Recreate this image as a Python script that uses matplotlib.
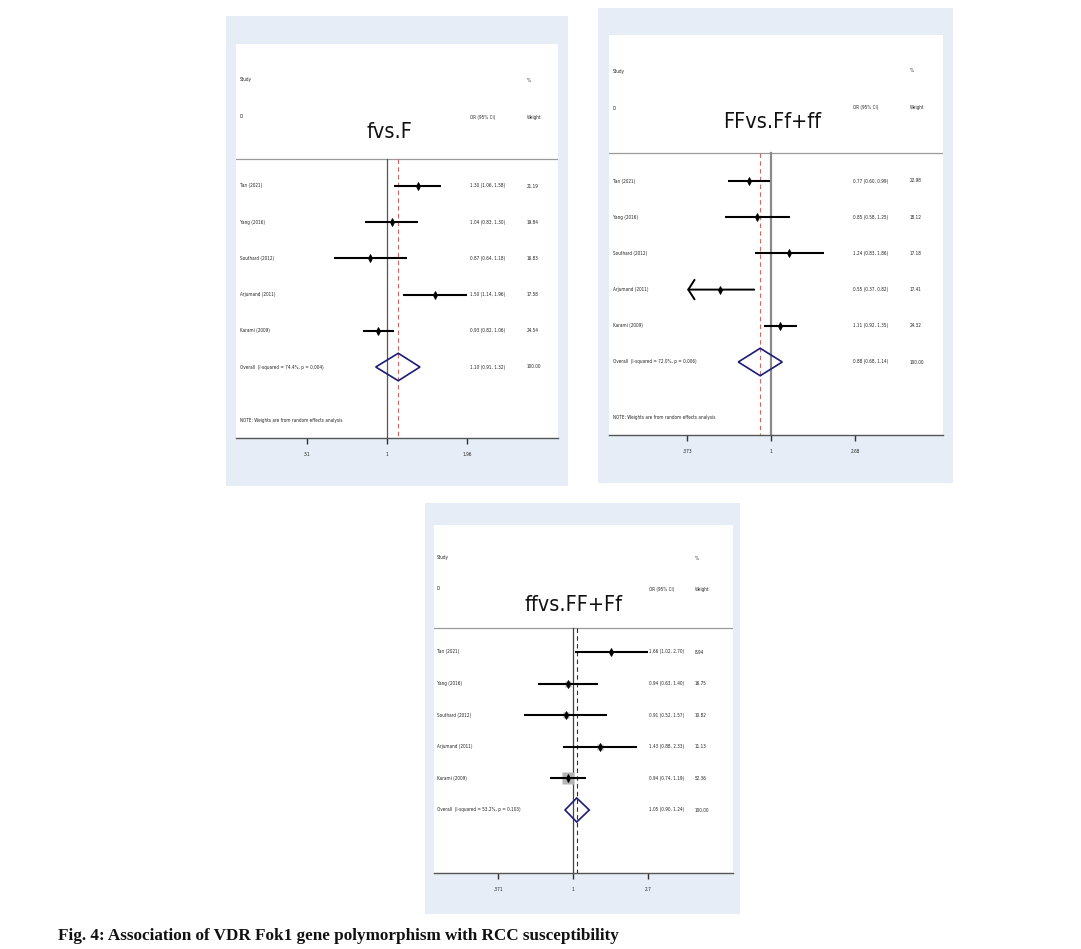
import numpy as np
import matplotlib
matplotlib.use("Agg")
import matplotlib.pyplot as plt
from matplotlib.patches import Rectangle, Polygon
from matplotlib import font_manager as fm

# ---------------- data ----------------
studies = ["Tan (2021)", "Yang (2016)", "Southard (2012)", "Arjumand (2011)", "Karami (2009)"]

p1_title = "fvs.F"
p1_or = [1.30, 1.04, 0.87, 1.50, 0.93]
p1_lo = [1.06, 0.83, 0.64, 1.14, 0.82]
p1_hi = [1.58, 1.30, 1.18, 1.96, 1.06]
p1_w = [21.19, 19.84, 16.83, 17.58, 24.54]
p1_overall = [1.10, 0.91, 1.32]
p1_het = "Overall  (I-squared = 74.4%, p = 0.004)"
p1_ticks = [0.51, 1, 1.96]
p1_ticklabels = [".51", "1", "1.96"]

p2_title = "FFvs.Ff+ff"
p2_or = [0.77, 0.85, 1.24, 0.55, 1.11]
p2_lo = [0.60, 0.58, 0.83, 0.37, 0.92]
p2_hi = [0.99, 1.25, 1.86, 0.82, 1.35]
p2_w = [22.98, 18.12, 17.18, 17.41, 24.32]
p2_overall = [0.88, 0.68, 1.14]
p2_het = "Overall  (I-squared = 72.0%, p = 0.006)"
p2_ticks = [0.373, 1, 2.68]
p2_ticklabels = [".373", "1", "2.68"]

p3_title = "ffvs.FF+Ff"
p3_or = [1.66, 0.94, 0.91, 1.43, 0.94]
p3_lo = [1.02, 0.63, 0.52, 0.88, 0.74]
p3_hi = [2.70, 1.40, 1.57, 2.33, 1.19]
p3_w = [8.94, 16.75, 10.82, 11.13, 52.36]
p3_overall = [1.05, 0.90, 1.24]
p3_het = "Overall  (I-squared = 53.2%, p = 0.103)"
p3_ticks = [0.371, 1, 2.7]
p3_ticklabels = [".371", "1", "2.7"]

note_text = "NOTE: Weights are from random effects analysis"
caption = "Fig. 4: Association of VDR Fok1 gene polymorphism with RCC susceptibility"

# ---------------- fonts ----------------
names = {f.name for f in fm.fontManager.ttflist}
if "Liberation Sans Narrow" in names:
    NARROW = dict(family="Liberation Sans Narrow")
else:
    NARROW = dict(family="DejaVu Sans", fontstretch="condensed")

W, H = 1081, 949
BG = "#e6edf6"
fig = plt.figure(figsize=(W / 100, H / 100), dpi=100)
fig.patch.set_facecolor("white")


def draw_panel(outer, white, row0, sp, header_px, study_px, id_px, title_px, note_px,
               xlim, title, orv, lo, hi, w, overall, het, ticks, ticklabels,
               cols, one_color, one_lw, dash_color, boxes=False, arrow_left=None):
    x0, y0, x1, y1 = outer
    fig.add_artist(Rectangle((x0 / W, 1 - y1 / H), (x1 - x0) / W, (y1 - y0) / H,
                             transform=fig.transFigure, facecolor=BG, edgecolor="none", zorder=0))
    wl, wt, wr, wb = white
    ax = fig.add_axes([wl / W, 1 - wb / H, (wr - wl) / W, (wb - wt) / H])
    ax.set_facecolor("white")
    yr = lambda p: (p - row0) / sp
    ax.set_xscale("log")
    ax.set_xlim(*xlim)
    ax.set_ylim(yr(wb), yr(wt))
    for s in ["top", "left", "right"]:
        ax.spines[s].set_visible(False)
    ax.spines["bottom"].set_color("#555555")
    ax.spines["bottom"].set_linewidth(1.0)
    ax.set_yticks([])
    ax.set_xticks(ticks)
    ax.set_xticklabels(ticklabels, **NARROW)
    ax.xaxis.set_minor_locator(matplotlib.ticker.NullLocator())
    ax.tick_params(axis="x", direction="out", length=4, width=1, color="#333333",
                   labelsize=3.4, pad=6, labelcolor="#222222")

    yh = yr(header_px)
    ybot = yr(wb)
    ax.axhline(yh, color="#9a9a9a", lw=0.9)
    ax.plot([1, 1], [yh, ybot], color=one_color, lw=one_lw, zorder=2)
    ax.plot([overall[0]] * 2, [yh, ybot], color=dash_color, lw=0.8, ls=(0, (4, 3)), zorder=2)

    n = len(orv)
    ys = np.arange(n)
    fs = dict(fontsize=3.3, va="center", color="#222222", **NARROW)
    tr = ax.get_yaxis_transform()
    for i in range(n):
        if arrow_left is not None and i == arrow_left:
            ax.annotate("", xy=(ticks[0], ys[i]), xytext=(hi[i], ys[i]),
                        arrowprops=dict(arrowstyle="->,head_length=0.45,head_width=0.7",
                                        color="black", lw=1.4, shrinkA=0, shrinkB=0))
        else:
            ax.plot([lo[i], hi[i]], [ys[i], ys[i]], color="black", lw=1.5, zorder=3,
                    solid_capstyle="butt")
        if boxes:
            side = 12 * np.sqrt(w[i] / max(w)) * 0.72
            ax.plot(orv[i], ys[i], marker="s", ms=side, color="#b5b5b5", mec="none", zorder=2.5)
        ax.plot(orv[i], ys[i], marker="d", ms=4.0, color="black", mew=0.6, zorder=4)
        ax.text(cols[0], ys[i], studies[i], transform=tr, ha="left", **fs)
        ax.text(cols[1], ys[i], f"{orv[i]:.2f} ({lo[i]:.2f}, {hi[i]:.2f})",
                transform=tr, ha="left", **fs)
        ax.text(cols[2], ys[i], f"{w[i]:.2f}", transform=tr, ha="left", **fs)

    yo = n
    est, olo, ohi = overall
    hh = 0.38
    ax.add_patch(Polygon([[olo, yo], [est, yo - hh], [ohi, yo], [est, yo + hh]], closed=True,
                         fill=False, edgecolor="#1b1b78", lw=1.2, zorder=4))
    ax.text(cols[0], yo, het, transform=tr, ha="left", **fs)
    ax.text(cols[1], yo, f"{est:.2f} ({olo:.2f}, {ohi:.2f})", transform=tr, ha="left", **fs)
    ax.text(cols[2], yo, "100.00", transform=tr, ha="left", **fs)
    ax.text(cols[0], yr(study_px), "Study", transform=tr, ha="left", **fs)
    ax.text(cols[0], yr(id_px), "ID", transform=tr, ha="left", **fs)
    ax.text(cols[1], yr(id_px), "OR (95% CI)", transform=tr, ha="left", **fs)
    ax.text(cols[2], yr(study_px), "%", transform=tr, ha="left", **fs)
    ax.text(cols[2], yr(id_px), "Weight", transform=tr, ha="left", **fs)
    if note_px is not None:
        ax.text(cols[0], yr(note_px), note_text, transform=tr, ha="left", **fs)
    ax.text(cols[3], yr(title_px), title, transform=tr, ha="center", va="center",
            fontsize=15.5, color="#111111", **NARROW)
    return ax


# Panel 1
draw_panel(outer=(226, 16, 568, 486), white=(236, 44, 558, 438), row0=186, sp=36.2,
           header_px=159, study_px=80, id_px=117, title_px=132, note_px=421,
           xlim=(0.281, 4.215), title=p1_title, orv=p1_or, lo=p1_lo, hi=p1_hi, w=p1_w,
           overall=p1_overall, het=p1_het, ticks=p1_ticks, ticklabels=p1_ticklabels,
           cols=(0.012, 0.727, 0.904, 0.478), one_color="#555555", one_lw=0.9,
           dash_color="#c86a6a")

# Panel 2
draw_panel(outer=(598, 8, 953, 483), white=(609, 35, 943, 435), row0=181, sp=36.2,
           header_px=153, study_px=71, id_px=108, title_px=122, note_px=417,
           xlim=(0.149, 7.53), title=p2_title, orv=p2_or, lo=p2_lo, hi=p2_hi, w=p2_w,
           overall=p2_overall, het=p2_het, ticks=p2_ticks, ticklabels=p2_ticklabels,
           cols=(0.012, 0.731, 0.901, 0.488), one_color="#8a8a8a", one_lw=1.6,
           dash_color="#c86a6a", arrow_left=3)

# Panel 3
draw_panel(outer=(425, 503, 740, 914), white=(434, 525, 733, 873), row0=652, sp=31.6,
           header_px=628, study_px=558, id_px=589, title_px=605, note_px=None,
           xlim=(0.159, 8.30), title=p3_title, orv=p3_or, lo=p3_lo, hi=p3_hi, w=p3_w,
           overall=p3_overall, het=p3_het, ticks=p3_ticks, ticklabels=p3_ticklabels,
           cols=(0.010, 0.719, 0.873, 0.465), one_color="#444444", one_lw=0.9,
           dash_color="#7a0f0f", boxes=True)

fig.text(58 / W, 1 - 936 / H, caption, fontsize=12.3, fontweight="bold",
         family="Liberation Serif", va="center", ha="left", color="#111111")

fig.savefig("out.png", dpi=100)
